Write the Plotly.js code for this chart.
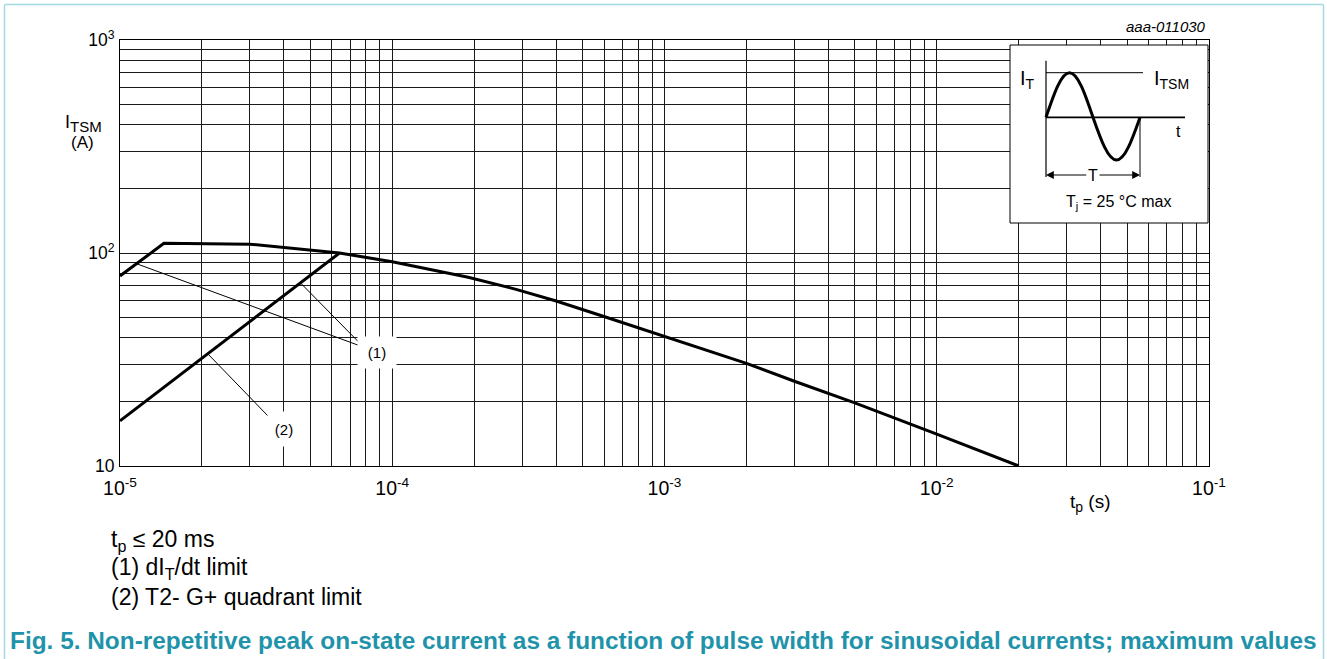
<!DOCTYPE html>
<html>
<head>
<meta charset="utf-8">
<script src="https://cdn.plot.ly/plotly-3.0.1.min.js"></script>
<style>html,body{margin:0;padding:0;background:#fff;}#chart{width:1327px;height:659px;}</style>
</head>
<body>
<div id="chart"></div>
<script>
// ---- data ----
const tpMain   = [1e-5, 1.45e-5, 3.0e-5, 6.4e-5, 1.0e-4, 1.9e-4, 2.85e-4, 4.0e-4, 5.8e-4, 1.0e-3, 2.0e-3, 3.0e-3, 5.0e-3, 1.0e-2, 2.0e-2];
const itsmMain = [78, 111, 110, 100, 91, 77, 67.5, 59.5, 51, 40.5, 30.3, 25, 19.8, 14.1, 10];
const tpQuad   = [1e-5, 6.4e-5];
const itsmQuad = [16.3, 100];

const xDecades = [-5, -4, -3, -2, -1];
const xDecadeLabels = ['10<sup>-5</sup>', '10<sup>-4</sup>', '10<sup>-3</sup>', '10<sup>-2</sup>', '10<sup>-1</sup>'];
const yDecades = [1, 2, 3];
const yDecadeLabels = ['10', '10<sup>2</sup>', '10<sup>3</sup>'];

// leader line anchors (pulse width on curve, label positions)
const lead1Targets = [1.15e-5, 4.6e-5];   // (1): on main curve rise, on quadrant line
const lead1Tail = [7.86e-5, 36.1];
const lead1Label = [8.8e-5, 34.0];
const lead2Target = 2.1e-5;
const lead2Tail = [3.62e-5, 16.4];
const lead2Label = [4.0e-5, 14.9];

const notes = ['t<sub>p</sub> ≤ 20 ms', '(1) dI<sub>T</sub>/dt limit', '(2) T2- G+ quadrant limit'];
const caption = 'Fig. 5. Non-repetitive peak on-state current as a function of pulse width for sinusoidal currents; maximum values';

// ---- helpers ----
function interpLog(xs, ys, x) {
  const lx = Math.log10(x);
  for (let i = 0; i < xs.length - 1; i++) {
    const a = Math.log10(xs[i]), b = Math.log10(xs[i + 1]);
    if (lx >= a && lx <= b) {
      const t = (lx - a) / (b - a);
      return Math.pow(10, Math.log10(ys[i]) + t * (Math.log10(ys[i + 1]) - Math.log10(ys[i])));
    }
  }
  return ys[ys.length - 1];
}
function ticksFor(decs, labels) {
  const vals = [], txt = [];
  decs.forEach((d, i) => {
    vals.push(Math.pow(10, d)); txt.push(labels[i]);
    if (i < decs.length - 1) for (let m = 2; m <= 9; m++) { vals.push(m * Math.pow(10, d)); txt.push(''); }
  });
  return {vals, txt};
}
const xt = ticksFor(xDecades, xDecadeLabels);
const yt = ticksFor(yDecades, yDecadeLabels);

const W = 1327, H = 659, ML = 120, MR = 118, MT = 40, MB = 193;
const px = x => (x - ML) / (W - ML - MR);
const py = y => (H - MB - y) / (H - MT - MB);

const FONT = 'Liberation Sans, Arial, sans-serif';

const traces = [
  {x: tpMain, y: itsmMain, mode: 'lines', line: {color: '#000', width: 3}, hoverinfo: 'skip'},
  {x: tpQuad, y: itsmQuad, mode: 'lines', line: {color: '#000', width: 3}, hoverinfo: 'skip'}
];

// ---- inset (schematic) ----
const sineCtrl = [
  [1046, 117.3],
  [1053.7, 94.5], [1061.0, 72.7], [1069.5, 72.7],
  [1078.0, 72.7], [1085.3, 94.5], [1093.0, 117.3],
  [1100.7, 139.2], [1108.0, 160.0], [1116.5, 160.0],
  [1125.0, 160.0], [1132.3, 139.2], [1140.0, 117.3]
];
let sinePath = 'M' + px(sineCtrl[0][0]) + ',' + py(sineCtrl[0][1]);
for (let i = 1; i < sineCtrl.length; i += 3) {
  sinePath += ' C' + [0, 1, 2].map(k => px(sineCtrl[i + k][0]) + ',' + py(sineCtrl[i + k][1])).join(' ');
}
function seg(x0, y0, x1, y1, w) {
  return {type: 'line', xref: 'paper', yref: 'paper', x0: px(x0), y0: py(y0), x1: px(x1), y1: py(y1),
          line: {color: '#000', width: w}, layer: 'above'};
}
const borderColor = '#a3d9e2';
const shapes = [
  // outer frame
  {type: 'line', xref: 'paper', yref: 'paper', x0: px(4.5), y0: py(4.5), x1: px(4.5), y1: py(659), line: {color: borderColor, width: 1.5}},
  {type: 'line', xref: 'paper', yref: 'paper', x0: px(4.5), y0: py(4.5), x1: px(1323.5), y1: py(4.5), line: {color: borderColor, width: 1.5}},
  {type: 'line', xref: 'paper', yref: 'paper', x0: px(1323.5), y0: py(4.5), x1: px(1323.5), y1: py(659), line: {color: borderColor, width: 1.5}},
  // inset box
  {type: 'rect', xref: 'paper', yref: 'paper', x0: px(1010), y0: py(223), x1: px(1208), y1: py(45),
   fillcolor: '#fff', line: {color: '#000', width: 1}, layer: 'above'},
  seg(1046, 60.7, 1046, 177, 1.2),
  seg(1046, 117.3, 1185, 117.3, 1.8),
  seg(1046, 72.7, 1143, 72.7, 1),
  seg(1140, 117.3, 1140, 177, 1),
  {type: 'path', xref: 'paper', yref: 'paper', path: sinePath, line: {color: '#000', width: 3}, layer: 'above'}
];

const annotations = [];
function txt(xp, yp, text, size, extra) {
  return Object.assign({xref: 'paper', yref: 'paper', x: px(xp), y: py(yp), text: text, showarrow: false,
    xanchor: 'center', yanchor: 'middle', font: {family: FONT, size: size, color: '#000'}}, extra || {});
}
// leader lines (1)
lead1Targets.forEach((tx, i) => {
  const ty = i === 0 ? interpLog(tpMain, itsmMain, tx) : interpLog(tpQuad, itsmQuad, tx);
  annotations.push({xref: 'x', yref: 'y', axref: 'x', ayref: 'y',
    x: Math.log10(tx), y: Math.log10(ty), ax: Math.log10(lead1Tail[0]), ay: Math.log10(lead1Tail[1]),
    text: '', showarrow: true, arrowhead: 0, arrowwidth: 1, arrowcolor: '#000', standoff: 0, startstandoff: 0});
});
// leader line (2)
annotations.push({xref: 'x', yref: 'y', axref: 'x', ayref: 'y',
  x: Math.log10(lead2Target), y: Math.log10(interpLog(tpQuad, itsmQuad, lead2Target)),
  ax: Math.log10(lead2Tail[0]), ay: Math.log10(lead2Tail[1]),
  text: '', showarrow: true, arrowhead: 0, arrowwidth: 1, arrowcolor: '#000', standoff: 0, startstandoff: 0});
annotations.push({xref: 'x', yref: 'y', x: Math.log10(lead1Label[0]), y: Math.log10(lead1Label[1]),
  xanchor: 'center', yanchor: 'middle',
  text: '(1)', showarrow: false, bgcolor: '#fff', width: 36, height: 29, font: {family: FONT, size: 15, color: '#000'}});
annotations.push({xref: 'x', yref: 'y', x: Math.log10(lead2Label[0]), y: Math.log10(lead2Label[1]),
  xanchor: 'center', yanchor: 'middle',
  text: '(2)', showarrow: false, bgcolor: '#fff', width: 30, height: 32, font: {family: FONT, size: 15, color: '#000'}});

// axis titles
annotations.push(txt(83, 124, 'I<sub><span style="font-size:15px">TSM</span></sub>', 18));
annotations.push(txt(82, 142, '(A)', 17));
annotations.push(txt(1090, 503, 't<sub><span style="font-size:14px">p</span></sub> (s)', 19));
annotations.push(txt(1208, 27, '<i>aaa-011030</i>', 15, {xanchor: 'right'}));

// inset texts
annotations.push(txt(1027.5, 79, 'I<sub><span style="font-size:14px">T</span></sub>', 20));
annotations.push(txt(1171.5, 79, 'I<sub><span style="font-size:14px">TSM</span></sub>', 20));
annotations.push(txt(1178.5, 131, 't', 16));
annotations.push(txt(1118, 202, 'T<sub>j</sub> = 25 °C max', 16));
[[1046, 47], [1140, -47]].forEach(([hx, off]) => {
  annotations.push({xref: 'paper', yref: 'paper', x: px(hx), y: py(175), ax: off, ay: 0, text: 'T', showarrow: true,
    arrowhead: 2, arrowsize: 1.3, arrowwidth: 1.2, arrowcolor: '#000', standoff: 0, bgcolor: '#fff',
    font: {family: FONT, size: 16, color: '#000'}});
});

// notes and caption
const noteY = [540, 568.5, 597];
notes.forEach((t, i) => {
  annotations.push(txt(109, noteY[i], t, 23, {xanchor: 'left'}));
});
annotations.push(txt(8, 640, '<b>' + caption + '</b>', 24.4, {xanchor: 'left', font: {family: FONT, size: 24.4, color: '#1f93aa'}}));

const axisCommon = {type: 'log', showgrid: true, gridcolor: '#1a1a1a', gridwidth: 1, showline: true, linecolor: '#000', linewidth: 1,
  mirror: true, zeroline: false, ticks: '', tickmode: 'array', fixedrange: true};

const layout = {
  width: W, height: H,
  margin: {l: ML, r: MR, t: MT, b: MB, pad: 0},
  paper_bgcolor: '#fff', plot_bgcolor: '#fff',
  showlegend: false,
  xaxis: Object.assign({}, axisCommon, {range: [-5, -1], tickvals: xt.vals, ticktext: xt.txt,
    tickfont: {family: FONT, size: 19.5, color: '#000'}, ticklabelstandoff: 5}),
  yaxis: Object.assign({}, axisCommon, {range: [1, 3], tickvals: yt.vals, ticktext: yt.txt,
    tickfont: {family: FONT, size: 17.5, color: '#000'}, ticklabelstandoff: 1}),
  shapes: shapes,
  annotations: annotations
};

Plotly.newPlot('chart', traces, layout, {displayModeBar: false, staticPlot: true});
</script>
</body>
</html>
